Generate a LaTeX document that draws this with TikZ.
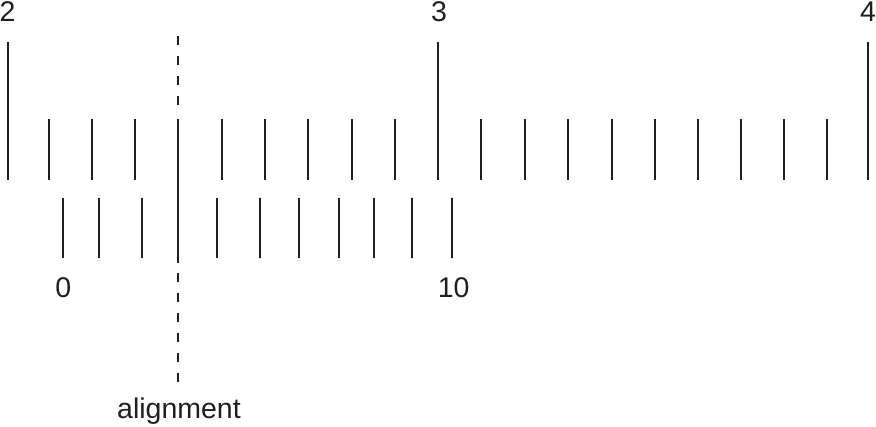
\documentclass[tikz,border=0pt]{standalone}
\usepackage{fontspec}
\setmainfont{Liberation Sans}
\begin{document}
\begin{tikzpicture}[x=1pt,y=-1pt,
  tick/.style={line width=2pt,draw=black!88},
  lbl/.style={inner sep=0pt,anchor=base,font=\fontsize{28.5}{28.5}\selectfont,text=black!88},
  dashline/.style={line width=2pt,draw=black!88,dash pattern=on 9pt off 11pt}]
\useasboundingbox (0,0) rectangle (876,426);
% main scale
\foreach \x in {49,92,135,222,265,308.3,351.7,395,481.3,524.7,568,611.7,654.7,698,741,784,827}
  \draw[tick] (\x,119) -- (\x,180);
\foreach \x in {7.5,438.3,868.3}
  \draw[tick] (\x,42) -- (\x,180);
% vernier scale
\foreach \x in {63.3,99,141.7,216.7,259.8,299,339,373.7,412.3,452}
  \draw[tick] (\x,198) -- (\x,258);
% alignment line
\coordinate (atop) at (178.3,36);
\coordinate (amid1) at (178.3,119);
\coordinate (amid2) at (178.3,263);
\coordinate (abot) at (178.3,383);
\draw[tick] (amid1) -- (amid2);
\draw[dashline] (atop) -- (178.3,112);
\draw[dashline] (178.3,273) -- (abot);
% labels
\node[lbl] (l2) at (7.5,21.5) {2};
\node[lbl] (l3) at (439,21) {3};
\node[lbl] (l4) at (868,21) {4};
\node[lbl] (v0) at (63.3,297.5) {0};
\node[lbl] (v10) at (453.7,297) {10};
\node[lbl] (al) at (179,418.5) {alignment};
\end{tikzpicture}
\end{document}
